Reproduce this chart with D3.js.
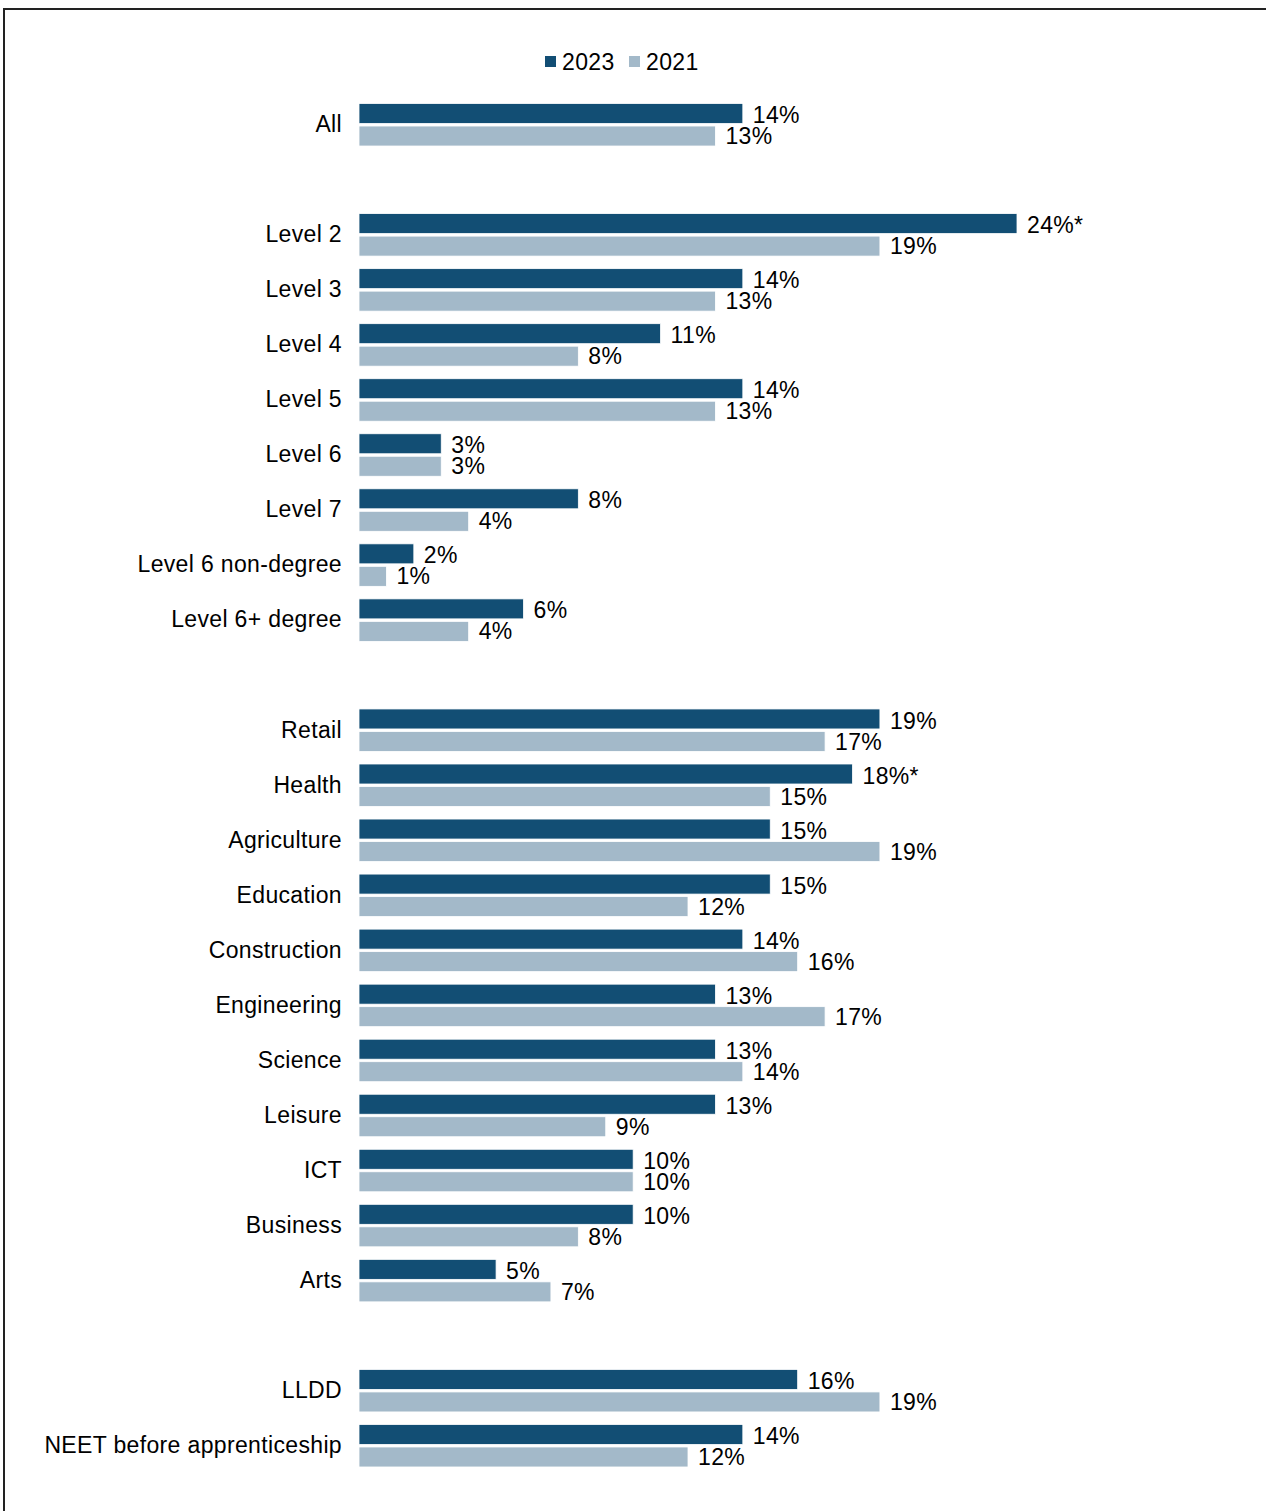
<!DOCTYPE html>
<html>
<head>
<meta charset="utf-8">
<script src="https://cdn.jsdelivr.net/npm/d3@7"></script>
<style>
  html, body { margin: 0; padding: 0; background: #fff; }
  svg { display: block; font-family: "Liberation Sans", Arial, sans-serif; }
</style>
</head>
<body>
<svg id="chart" width="1266" height="1511"></svg>
<script>
// Categories, with empty entries acting as spacers between groups
const categories = [
  "All", "",
  "Level 2", "Level 3", "Level 4", "Level 5", "Level 6", "Level 7",
  "Level 6 non-degree", "Level 6+ degree", "",
  "Retail", "Health", "Agriculture", "Education", "Construction",
  "Engineering", "Science", "Leisure", "ICT", "Business", "Arts", "",
  "LLDD", "NEET before apprenticeship"
];
const values2023 = [14, null, 24, 14, 11, 14, 3, 8, 2, 6, null,
  19, 18, 15, 15, 14, 13, 13, 13, 10, 10, 5, null, 16, 14];
const values2021 = [13, null, 19, 13, 8, 13, 3, 4, 1, 4, null,
  17, 15, 19, 12, 16, 17, 14, 9, 10, 8, 7, null, 19, 12];
// 2023 values marked as a significant change
const significant2023 = ["Level 2", "Health"];
const seriesNames = ["2023", "2021"];
const seriesColors = ["#124e74", "#a3b9c9"];

const svg = d3.select("#chart");

// Frame lines along the top and left edges
svg.append("line").attr("x1", 4).attr("x2", 1266).attr("y1", 9).attr("y2", 9)
  .attr("stroke", "#222").attr("stroke-width", 2);
svg.append("line").attr("x1", 4).attr("x2", 4).attr("y1", 8).attr("y2", 1511)
  .attr("stroke", "#222").attr("stroke-width", 2);

const x = d3.scaleLinear().domain([0, 24]).range([359, 1017]);
const y = d3.scaleBand().domain(categories.map((c, i) => i))
  .range([97, 97 + 55.04 * categories.length]).padding(0);

const rows = categories.map((c, i) => ({
  name: c, i,
  v: [values2023[i], values2021[i]],
  star: significant2023.includes(c)
})).filter(d => d.name !== "");

const barH = 20;
const offsets = [-21, 1.5];
const labelShift = [1.5, 0];
const fontSize = 23;
const spacing = "0.35px";

// Category labels
svg.append("g").selectAll("text").data(rows).join("text")
  .attr("x", 342)
  .attr("y", d => y(d.i) + y.bandwidth() / 2 - 0.5)
  .attr("dy", "0.35em")
  .attr("text-anchor", "end")
  .attr("font-size", fontSize)
  .attr("letter-spacing", spacing)
  .attr("fill", "#000")
  .text(d => d.name);

seriesNames.forEach((s, k) => {
  const g = svg.append("g");
  g.selectAll("rect").data(rows).join("rect")
    .attr("x", x(0))
    .attr("y", d => y(d.i) + y.bandwidth() / 2 + offsets[k])
    .attr("width", d => x(d.v[k]) - x(0))
    .attr("height", barH)
    .attr("fill", seriesColors[k])
    .attr("stroke", "#ffffff")
    .attr("stroke-width", 0.8);
  g.selectAll("text").data(rows).join("text")
    .attr("x", d => x(d.v[k]) + 10)
    .attr("y", d => y(d.i) + y.bandwidth() / 2 + offsets[k] + barH / 2 + labelShift[k])
    .attr("dy", "0.35em")
    .attr("font-size", fontSize)
    .attr("letter-spacing", spacing)
    .attr("fill", "#000")
    .text(d => d.v[k] + "%" + (k === 0 && d.star ? "*" : ""));
});

// Legend
const legend = svg.append("g");
const legendX = [545, 629];
seriesNames.forEach((s, k) => {
  legend.append("rect").attr("x", legendX[k]).attr("y", 56)
    .attr("width", 11).attr("height", 11).attr("fill", seriesColors[k]);
  legend.append("text").attr("x", legendX[k] + 17).attr("y", 61.5)
    .attr("dy", "0.35em").attr("font-size", fontSize)
    .attr("letter-spacing", spacing).attr("fill", "#000").text(s);
});
</script>
</body>
</html>
